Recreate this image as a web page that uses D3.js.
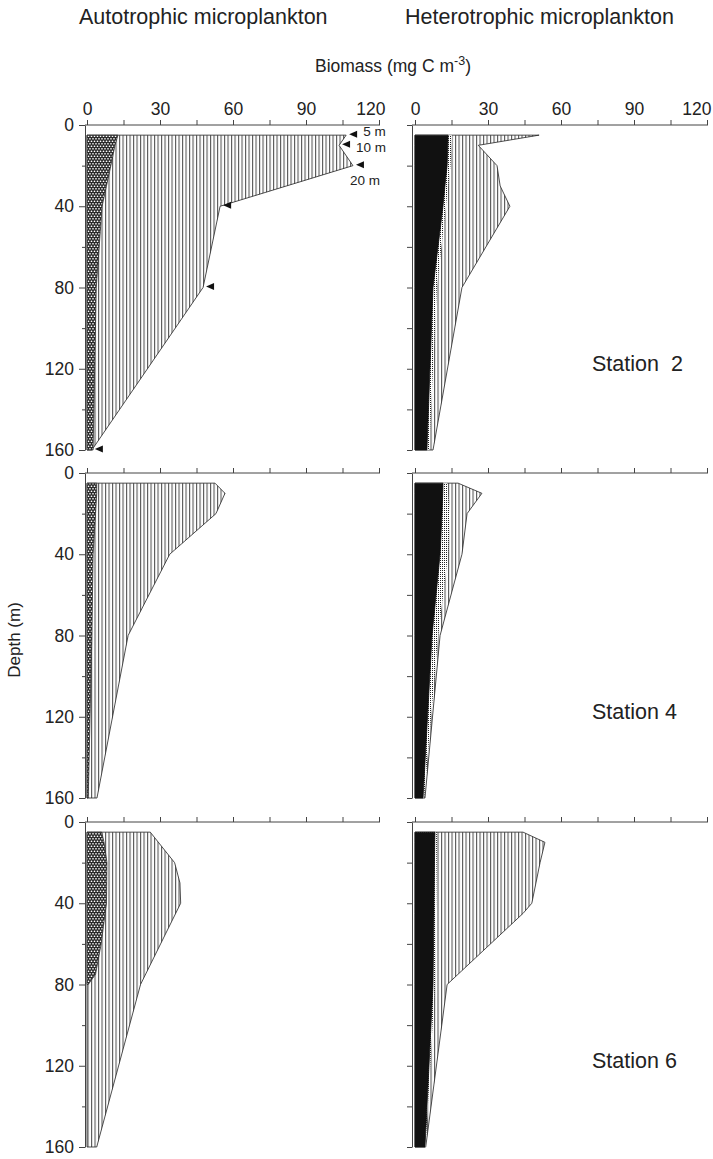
<!DOCTYPE html>
<html>
<head>
<meta charset="utf-8">
<script src="https://cdn.jsdelivr.net/npm/d3@7"></script>
<style>
    body { margin: 0; background: #fff; }
    svg text { font-family: "Liberation Sans", Arial, sans-serif; fill: #222; }
    .axis line, .axis path { stroke: #444; stroke-width: 1; }
</style>
</head>
<body>
<svg id="chart" width="713" height="1159"></svg>
<script>
// --- data ---
var biomassTicks = [0, 30, 60, 90, 120];
var depthTicks = [0, 40, 80, 120, 160];
var stationNames = ['Station  2', 'Station 4', 'Station 6'];
var sampleLabels = ['5 m', '10 m', '20 m'];

// station 2, autotrophic
var s2AutoDepth = [5, 10, 20, 40, 80, 160];
var s2AutoTotal = [106.5, 103.6, 109.3, 54.7, 47.7, 2];
var s2AutoCross = [12.7, 11.5, 9.8, 6.2, 3.8, 2.5];
// station 2, heterotrophic
var s2HetDepth = [5, 10, 20, 30, 40, 80, 160];
var s2HetTotal = [51, 26, 33.7, 35, 39, 19.3, 7.4];
var s2HetDots = [15.2, 15, 14.6, 13.6, 12.7, 9, 5.8];
var s2HetBlack = [13.6, 13.5, 13.2, 12.3, 11.5, 7.4, 4.9];

// station 4, autotrophic
var s4AutoDepth = [5, 10, 20, 40, 80, 160];
var s4AutoTotal = [52.6, 56.7, 53, 34, 16.9, 4.1];
var s4AutoCross = [4, 4, 3.5, 2.5, 2, 0.5];
// station 4, heterotrophic
var s4HetDepth = [5, 10, 20, 40, 80, 160];
var s4HetTotal = [17.7, 27.5, 21.4, 19.3, 10.3, 4.1];
var s4HetDots = [13.2, 13.5, 14.4, 13.6, 9.5, 3.7];
var s4HetBlack = [11.5, 11.4, 11.1, 10.3, 7, 3.3];

// station 6, autotrophic
var s6AutoDepth = [5, 20, 30, 40, 80, 160];
var s6AutoTotal = [26, 36, 38.2, 38.5, 22, 4];
var s6CrossDepth = [5, 10, 20, 40, 60, 75, 80];
var s6AutoCross = [6, 7, 8.2, 8, 5.8, 3.5, 0.5];
// station 6, heterotrophic
var s6HetDepth = [5, 10, 20, 40, 45, 80, 160];
var s6HetTotal = [44.4, 53.4, 51.4, 48, 44.4, 13.2, 4.4];
var s6HetDots = [9, 9, 8.9, 8.7, 8.6, 8.2, 4.3];
var s6HetBlack = [8.2, 8.1, 8, 7.8, 7.8, 7.4, 4.1];

function series(depth, value) {
    return depth.map(function (d, i) { return { depth: d, value: value[i] }; });
}

var stations = [
    {
        auto: [{ data: series(s2AutoDepth, s2AutoTotal), fill: 'url(#vhatch)', stroke: '#222' },
               { data: series(s2AutoDepth, s2AutoCross), fill: 'url(#cross)', stroke: '#333' }],
        het: [{ data: series(s2HetDepth, s2HetTotal), fill: 'url(#vhatch)', stroke: '#222' },
              { data: series(s2HetDepth, s2HetDots), fill: 'url(#dots)', stroke: 'none' },
              { data: series(s2HetDepth, s2HetBlack), fill: '#111', stroke: '#111' }]
    },
    {
        auto: [{ data: series(s4AutoDepth, s4AutoTotal), fill: 'url(#vhatch)', stroke: '#222' },
               { data: series(s4AutoDepth, s4AutoCross), fill: 'url(#cross)', stroke: '#333' }],
        het: [{ data: series(s4HetDepth, s4HetTotal), fill: 'url(#vhatch)', stroke: '#222' },
              { data: series(s4HetDepth, s4HetDots), fill: 'url(#dots)', stroke: 'none' },
              { data: series(s4HetDepth, s4HetBlack), fill: '#111', stroke: '#111' }]
    },
    {
        auto: [{ data: series(s6AutoDepth, s6AutoTotal), fill: 'url(#vhatch)', stroke: '#222' },
               { data: series(s6CrossDepth, s6AutoCross), fill: 'url(#cross)', stroke: '#333' }],
        het: [{ data: series(s6HetDepth, s6HetTotal), fill: 'url(#vhatch)', stroke: '#222' },
              { data: series(s6HetDepth, s6HetDots), fill: 'url(#dots)', stroke: 'none' },
              { data: series(s6HetDepth, s6HetBlack), fill: '#111', stroke: '#111' }]
    }
];

var svg = d3.select('#chart');

// fill patterns
var defs = svg.append('defs');
var vh = defs.append('pattern').attr('id', 'vhatch').attr('patternUnits', 'userSpaceOnUse')
    .attr('width', 3.5).attr('height', 10);
vh.append('rect').attr('width', 3.5).attr('height', 10).attr('fill', '#fff');
vh.append('line').attr('x1', 0.6).attr('x2', 0.6).attr('y1', 0).attr('y2', 10)
    .attr('stroke', '#333').attr('stroke-width', 0.9);

var cr = defs.append('pattern').attr('id', 'cross').attr('patternUnits', 'userSpaceOnUse')
    .attr('width', 3).attr('height', 5);
cr.append('rect').attr('width', 3).attr('height', 5).attr('fill', '#2a2a2a');
cr.append('circle').attr('cx', 1.5).attr('cy', 1.25).attr('r', 0.85).attr('fill', '#fff');
cr.append('circle').attr('cx', 0).attr('cy', 3.75).attr('r', 0.85).attr('fill', '#fff');
cr.append('circle').attr('cx', 3).attr('cy', 3.75).attr('r', 0.85).attr('fill', '#fff');

var dt = defs.append('pattern').attr('id', 'dots').attr('patternUnits', 'userSpaceOnUse')
    .attr('width', 2).attr('height', 2);
dt.append('rect').attr('width', 2).attr('height', 2).attr('fill', '#fff');
dt.append('rect').attr('width', 1).attr('height', 1).attr('fill', '#222');

var leftX = d3.scaleLinear().domain([0, 120]).range([87, 379]);
var rightX = d3.scaleLinear().domain([0, 120]).range([415, 707]);
var panelTops = [125, 473, 822];
var panelH = 325;

function drawPanel(x, y, axisX, layers, topLabels, depthLabels) {
    var g = svg.append('g');
    var area = d3.area()
        .x0(x(0))
        .x1(function (d) { return x(d.value); })
        .y(function (d) { return y(d.depth); });

    layers.forEach(function (l) {
        g.append('path')
            .datum(l.data)
            .attr('d', area)
            .attr('fill', l.fill)
            .attr('stroke', l.stroke)
            .attr('stroke-width', 0.8)
            .attr('stroke-linejoin', 'round');
    });

    // top biomass axis
    g.append('line').attr('class', 'axis')
        .attr('x1', axisX).attr('x2', x(120) + 1)
        .attr('y1', y(0)).attr('y2', y(0))
        .attr('stroke', '#444');
    var ticks = g.append('g').attr('class', 'axis')
        .attr('transform', 'translate(0,' + y(0) + ')')
        .call(d3.axisTop(x).tickValues(d3.range(0, 121, 15)).tickSize(5).tickSizeOuter(0).tickFormat(''));
    ticks.select('.domain').remove();
    if (topLabels) {
        var lab = g.append('g')
            .attr('transform', 'translate(0,' + y(0) + ')')
            .call(d3.axisTop(x).tickValues(biomassTicks).tickSize(0).tickPadding(10));
        lab.select('.domain').remove();
        lab.selectAll('text').style('font-size', '17.5px').attr('fill', '#222')
            .filter(function (d) { return d === 120; })
            .attr('text-anchor', 'end')
            .attr('x', Math.min(6, 711 - x(120)));
    }

    // depth axis
    var minor = g.append('g').attr('class', 'axis')
        .attr('transform', 'translate(' + axisX + ',0)')
        .call(d3.axisLeft(y).tickValues([20, 60, 100, 140]).tickSize(depthLabels ? 3 : 5).tickSizeOuter(0).tickFormat(''));
    minor.select('.domain').remove();
    var major = g.append('g').attr('class', 'axis')
        .attr('transform', 'translate(' + axisX + ',0)')
        .call(d3.axisLeft(y).tickValues(depthTicks).tickSize(depthLabels ? 6 : 5).tickSizeOuter(0).tickPadding(5)
            .tickFormat(depthLabels ? d3.format('d') : ''));
    major.selectAll('text').style('font-size', '17.5px').attr('fill', '#222');
    return g;
}

stations.forEach(function (st, i) {
    var y = d3.scaleLinear().domain([0, 160]).range([panelTops[i], panelTops[i] + panelH]);
    drawPanel(leftX, y, 85, st.auto, i === 0, true);
    drawPanel(rightX, y, 412, st.het, i === 0, false);

    svg.append('text')
        .attr('x', 592)
        .attr('y', panelTops[i] + 246)
        .attr('xml:space', 'preserve')
        .style('white-space', 'pre')
        .style('font-size', '21.5px')
        .text(stationNames[i]);

    if (i === 0) {
        // sampling depth markers on station 2
        var pts = stations[0].auto[0].data;
        svg.append('g').selectAll('path')
            .data(pts)
            .join('path')
            .attr('d', function (d) {
                var px = leftX(d.value) + 3, py = y(d.depth) - 1;
                return 'M' + px + ',' + py + 'l8,-3.5v7z';
            })
            .attr('fill', '#111');
        svg.append('g').selectAll('text')
            .data(sampleLabels)
            .join('text')
            .style('font-size', '13.5px')
            .attr('x', function (d, k) {
                var px = leftX(pts[k].value) + 3;
                return k < 2 ? px + 14 : px - 6;
            })
            .attr('y', function (d, k) {
                var py = y(pts[k].depth);
                return [py + 1, py + 7, py + 19][k];
            })
            .text(function (d) { return d; });
    }
});

// titles
svg.append('text').attr('x', 79).attr('y', 24).style('font-size', '21.5px').text('Autotrophic microplankton');
svg.append('text').attr('x', 405).attr('y', 24).style('font-size', '21.5px').text('Heterotrophic microplankton');

var bio = svg.append('text').attr('x', 315).attr('y', 72).style('font-size', '17.5px');
bio.append('tspan').text('Biomass (mg C m');
bio.append('tspan').attr('dy', -7).style('font-size', '12.5px').text('-3');
bio.append('tspan').attr('dy', 7).text(')');

svg.append('text')
    .attr('transform', 'translate(20,640) rotate(-90)')
    .attr('text-anchor', 'middle')
    .style('font-size', '17px')
    .text('Depth (m)');
</script>
</body>
</html>
